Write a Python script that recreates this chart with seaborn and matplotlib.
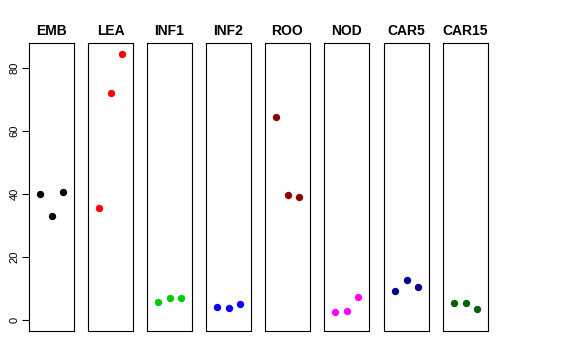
import matplotlib
matplotlib.use("Agg")
import matplotlib.pyplot as plt
import seaborn as sns
import pandas as pd

tissues = ["EMB", "LEA", "INF1", "INF2", "ROO", "NOD", "CAR5", "CAR15"]
colors = ["black", "#FF0000", "#00CD00", "#0000FF", "#8B0000", "#FF00FF", "#00008B", "#006400"]
replicate = [1, 2, 3]
EMB = [39.9, 32.9, 40.7]
LEA = [35.5, 72.1, 84.5]
INF1 = [5.8, 6.9, 6.9]
INF2 = [4.0, 3.8, 5.0]
ROO = [64.3, 39.6, 39.1]
NOD = [2.5, 2.8, 7.2]
CAR5 = [9.1, 12.7, 10.4]
CAR15 = [5.5, 5.3, 3.6]
values = [EMB, LEA, INF1, INF2, ROO, NOD, CAR5, CAR15]
yticks = [0, 20, 40, 60, 80]

sns.set_style("white")
plt.rcParams["font.family"] = ["Liberation Sans", "DejaVu Sans"]
plt.rcParams["text.color"] = "black"
plt.rcParams["axes.labelcolor"] = "black"
plt.rcParams["xtick.color"] = "black"
plt.rcParams["ytick.color"] = "black"

fig = plt.figure(figsize=(5.76, 3.6), dpi=100)
W, H = 576, 360
lefts = [29, 88, 147, 206, 265, 324, 384, 443]
pw = 45
top, bottom = 43, 331

for i, (name, col, vals) in enumerate(zip(tissues, colors, values)):
    ax = fig.add_axes([lefts[i] / W, 1 - bottom / H, pw / W, (bottom - top) / H])
    df = pd.DataFrame({"rep": replicate, "val": vals})
    sns.scatterplot(data=df, x="rep", y="val", color=col, s=28, linewidth=0, ax=ax)
    ax.set_xlim(0, 4)
    ax.set_ylim(-3.5, 87.9)
    ax.set_xticks([])
    ax.set_xlabel("")
    ax.set_ylabel("")
    ax.set_title(name, fontsize=10, fontweight="bold", pad=6, color="black")
    for s in ax.spines.values():
        s.set_visible(True)
        s.set_color("black")
        s.set_linewidth(0.8)
    if i == 0:
        ax.set_yticks(yticks)
        ax.set_yticklabels([str(t) for t in yticks], rotation=90, va="center", fontsize=8, color="black")
        ax.tick_params(axis="y", left=True, length=5, width=0.8, direction="out", pad=2, colors="black")
    else:
        ax.set_yticks([])

fig.savefig("out.png", dpi=100)
